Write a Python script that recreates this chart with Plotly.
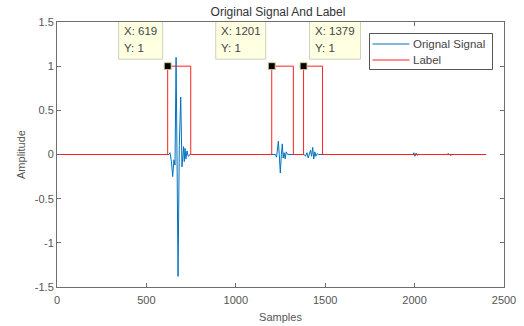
import plotly.graph_objects as go

# Recorded waveform: sample index and amplitude at the turning points of each burst
signal_x = [0, 626, 632, 640, 647, 654, 660, 666, 672, 677, 684, 692, 699, 704, 708,
            712, 716, 721, 727, 734, 744,
            1222, 1228, 1232, 1238, 1243, 1249, 1255, 1260, 1265, 1270, 1276, 1282, 1290,
            1383, 1390, 1398, 1405, 1412, 1418, 1424, 1430, 1436, 1442, 1448, 1455, 1462,
            1990, 1996, 2002, 2008, 2014, 2020,
            2180, 2190, 2200, 2210, 2400]
signal_y = [0, 0, 0.02, -0.08, -0.25, -0.06, -0.12, 1.10, -0.2, -1.38, 0.1, 0.65, -0.14, 0.02, 0.09,
            -0.08, 0.07, -0.05, 0.04, -0.02, 0,
            0, -0.03, 0.04, 0.15, 0.0, -0.21, 0.0, 0.12, -0.04, 0.02, -0.05, 0.03, 0,
            0, -0.02, 0.02, -0.04, 0.02, 0.05, -0.02, 0.08, -0.05, 0.03, -0.02, 0.01, 0,
            0, 0.02, -0.02, 0.015, -0.01, 0,
            0, 0.01, -0.01, 0, 0]

# Event label: rectangular pulses (value 1 between onset and offset)
label_on = [619, 1201, 1379]
label_off = [748, 1322, 1485]
n_samples = 2400

# Data tips placed on the rising edges
tip_x = [619, 1201, 1379]
tip_y = [1, 1, 1]

series_names = ["Orignal Signal", "Label"]
series_colors = ["#0072BD", "#FF2020"]

label_x, label_y = [0], [0]
for on, off in zip(label_on, label_off):
    label_x += [on, on, off, off]
    label_y += [0, 1, 1, 0]
label_x.append(n_samples)
label_y.append(0)

FONT = "Liberation Sans, Arial, sans-serif"
AXIS_COL = "#6e6e6e"
TEXT_COL = "#555555"

# Plot area in pixels (used to place the legend box in paper coordinates)
W, H = 524, 326
ML, MR, MT, MB = 57, 20, 22, 39
PW, PH = W - ML - MR, H - MT - MB


def px_x(p):
    return (p - ML) / PW


def px_y(p):
    return (H - MB - p) / PH


fig = go.Figure()
fig.add_trace(go.Scatter(x=signal_x, y=signal_y, mode="lines", name=series_names[0],
                         showlegend=False, line=dict(color=series_colors[0], width=1)))
fig.add_trace(go.Scatter(x=label_x, y=label_y, mode="lines", name=series_names[1],
                         showlegend=False, line=dict(color=series_colors[1], width=1)))
fig.add_trace(go.Scatter(x=tip_x, y=tip_y, mode="markers", showlegend=False,
                         marker=dict(symbol="square", size=7, color="black",
                                     line=dict(color="#D8D3A0", width=1))))

# Data tip boxes: left/right pixel offsets from each tip point
box_offsets = [(-49, -5), (-56, -6), (6, 57)]
for tx, ty, (x0, x1) in zip(tip_x, tip_y, box_offsets):
    fig.add_shape(type="rect", xref="x", yref="y",
                  xsizemode="pixel", ysizemode="pixel",
                  xanchor=tx, yanchor=ty, x0=x0, x1=x1, y0=7, y1=47,
                  fillcolor="#FFFFE1", line=dict(color="#CFCFC0", width=1), layer="above")
    for text, dy in ((f"X: {tx}", 35.5), (f"Y: {ty}", 18)):
        fig.add_annotation(x=tx, y=ty, xref="x", yref="y", text=text, showarrow=False,
                           xanchor="left", yanchor="middle", xshift=x0 + 3.5, yshift=dy,
                           font=dict(family=FONT, size=11.5, color="#444444"))

# Legend box with compact rows
fig.add_shape(type="rect", xref="paper", yref="paper",
              x0=px_x(369.5), x1=px_x(492.5), y0=px_y(69.5), y1=px_y(33.5),
              fillcolor="white", line=dict(color="#555555", width=1), layer="above")
for i, (name, col) in enumerate(zip(series_names, series_colors)):
    row_y = px_y(44 + 16 * i)
    fig.add_shape(type="line", xref="paper", yref="paper",
                  x0=px_x(372.5), x1=px_x(409.5), y0=row_y, y1=row_y,
                  line=dict(color=col, width=1), layer="above")
    fig.add_annotation(x=px_x(410.5), y=row_y, xref="paper", yref="paper", text=name,
                       showarrow=False, xanchor="left", yanchor="middle",
                       font=dict(family=FONT, size=11.5, color="#444444"))

axis_common = dict(showline=True, linecolor=AXIS_COL, linewidth=1, mirror="ticks",
                   ticks="inside", ticklen=4, tickcolor=AXIS_COL, showgrid=False,
                   zeroline=False, tickfont=dict(family=FONT, size=11, color=TEXT_COL))

fig.update_xaxes(range=[0, 2500], tickvals=[0, 500, 1000, 1500, 2000, 2500],
                 ticklabelstandoff=3,
                 title=dict(text="Samples", font=dict(family=FONT, size=11, color=TEXT_COL),
                            standoff=8),
                 **axis_common)
fig.update_yaxes(range=[-1.5, 1.5], tickvals=[-1.5, -1, -0.5, 0, 0.5, 1, 1.5],
                 ticktext=["-1.5", "-1", "-0.5", "0", "0.5", "1", "1.5"],
                 title=dict(text="Amplitude", font=dict(family=FONT, size=11, color=TEXT_COL),
                            standoff=6),
                 **axis_common)

fig.update_layout(
    width=W, height=H,
    margin=dict(l=ML, r=MR, t=MT, b=MB, autoexpand=False),
    paper_bgcolor="white", plot_bgcolor="white",
    title=dict(text="Original Signal And Label", xref="paper", x=px_x(278), xanchor="center",
               y=1 - 12 / H, yanchor="middle",
               font=dict(family=FONT, size=12, color="#333333")),
    showlegend=False,
)

fig.write_html("out.html")
